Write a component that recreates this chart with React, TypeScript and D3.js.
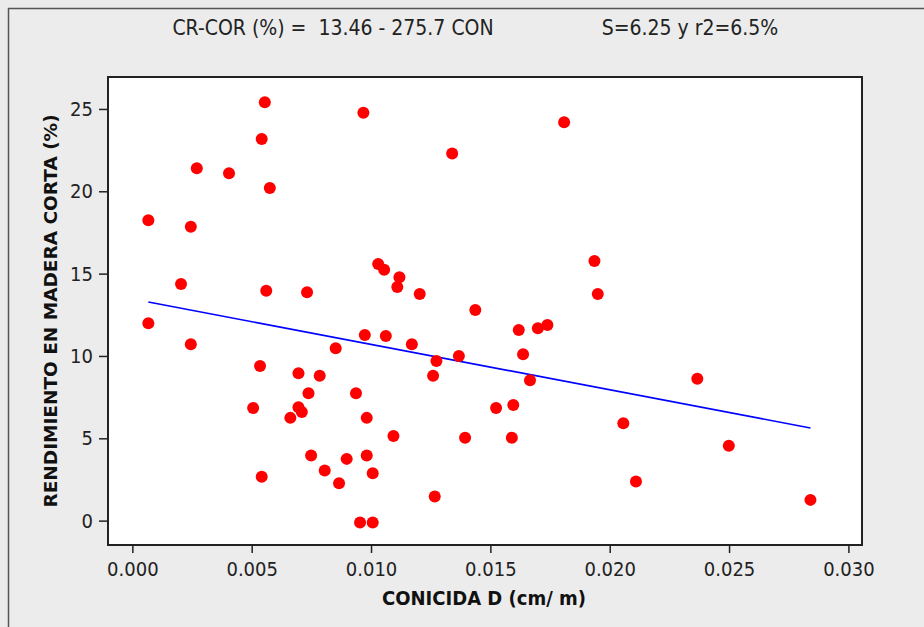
import React, { useEffect, useRef } from "react";
import * as d3 from "d3";

// conicidad (cm/m) vs rendimiento en madera corta (%)
const conicidad = [
  0.00067, 0.00067, 0.00204, 0.00245, 0.00245, 0.0027, 0.00405, 0.00506, 0.00535, 0.00542,
  0.00542, 0.00555, 0.00561, 0.00576, 0.00662, 0.00696, 0.00696, 0.0071, 0.00732, 0.00738,
  0.00749, 0.00785, 0.00806, 0.00852, 0.00866, 0.00898, 0.00937, 0.00954, 0.00968, 0.00974,
  0.00982, 0.00982, 0.01007, 0.01007, 0.0103, 0.01055, 0.01062, 0.01094, 0.0111, 0.01119,
  0.01171, 0.01204, 0.0126, 0.01267, 0.01274, 0.0134, 0.01368, 0.01394, 0.01437, 0.01524,
  0.0159, 0.01596, 0.01619, 0.01637, 0.01666, 0.01699, 0.01739, 0.01809, 0.01936, 0.0195,
  0.02057, 0.0211, 0.02367, 0.02499, 0.02841,
];
const rendimiento = [
  18.24, 11.99, 14.37, 17.85, 10.71, 21.4, 21.1, 6.84, 9.39, 23.18,
  2.67, 25.4, 13.96, 20.2, 6.24, 8.95, 6.88, 6.6, 13.87, 7.73,
  3.95, 8.8, 3.04, 10.47, 2.27, 3.75, 7.73, -0.12, 24.77, 11.27,
  6.24, 3.95, 2.88, -0.12, 15.59, 15.24, 11.21, 5.14, 14.19, 14.78,
  10.71, 13.76, 8.8, 1.46, 9.7, 22.3, 10.0, 5.04, 12.79, 6.84,
  5.04, 7.02, 11.58, 10.1, 8.52, 11.68, 11.88, 24.19, 15.77, 13.76,
  5.91, 2.37, 8.62, 4.55, 1.26,
];
const intercept = 13.46;
const slope = -275.7;
const xTicks = [0, 0.005, 0.01, 0.015, 0.02, 0.025, 0.03];
const yTicks = [0, 5, 10, 15, 20, 25];
const titleLeft = "CR-COR (%) =  13.46 - 275.7 CON";
const titleRight = "S=6.25 y r2=6.5%";
const xLabel = "CONICIDA D (cm/ m)";
const yLabel = "RENDIMIENTO EN MADERA CORTA (%)";

const W = 924;
const H = 627;
const font = "'DejaVu Sans Condensed', 'DejaVu Sans', sans-serif";
const boldFont = "'DejaVu Sans', sans-serif";

const App = () => {
  const svgRef = useRef(null);

  useEffect(() => {
    const svg = d3.select(svgRef.current);
    svg.selectAll("*").remove();

    const plot = { left: 108, top: 77, right: 862, bottom: 545 };

    const x = d3.scaleLinear().domain([-0.00102, 0.03057]).range([plot.left, plot.right]);
    const y = d3.scaleLinear().domain([-1.48, 26.94]).range([plot.bottom, plot.top]);

    // background and outer frame
    svg.append("rect").attr("width", W).attr("height", H).attr("fill", "#ebebeb");
    svg
      .append("rect")
      .attr("x", 8.5)
      .attr("y", 8.5)
      .attr("width", W + 20)
      .attr("height", H + 20)
      .attr("fill", "#ececec")
      .attr("stroke", "#555")
      .attr("stroke-width", 1.5);

    svg
      .append("rect")
      .attr("x", plot.left)
      .attr("y", plot.top)
      .attr("width", plot.right - plot.left)
      .attr("height", plot.bottom - plot.top)
      .attr("fill", "#fff")
      .attr("stroke", "#222")
      .attr("stroke-width", 2);

    const xAxis = svg
      .append("g")
      .attr("transform", `translate(0,${plot.bottom + 1})`)
      .call(
        d3.axisBottom(x).tickValues(xTicks).tickFormat(d3.format(".3f")).tickSize(7).tickSizeOuter(0)
      );
    const yAxis = svg
      .append("g")
      .attr("transform", `translate(${plot.left - 1},0)`)
      .call(d3.axisLeft(y).tickValues(yTicks).tickSize(8).tickSizeOuter(0));

    [xAxis, yAxis].forEach((g) => {
      g.select(".domain").remove();
      g.selectAll("line").attr("stroke", "#222").attr("stroke-width", 1.5);
      g.selectAll("text")
        .attr("fill", "#222")
        .style("font-family", font)
        .style("font-size", "20px");
    });
    xAxis.selectAll("text").attr("dy", "0.95em").attr("y", 11);
    yAxis.selectAll("text").attr("x", -14);

    // regression line
    const xs = d3.extent(conicidad);
    svg
      .append("path")
      .attr(
        "d",
        d3.line()([
          [x(xs[0]), y(intercept + slope * xs[0])],
          [x(xs[1]), y(intercept + slope * xs[1])],
        ])
      )
      .attr("stroke", "#0000ff")
      .attr("stroke-width", 1.6)
      .attr("fill", "none");

    svg
      .append("g")
      .selectAll("circle")
      .data(conicidad)
      .enter()
      .append("circle")
      .attr("cx", (d) => x(d))
      .attr("cy", (d, i) => y(rendimiento[i]))
      .attr("r", 6)
      .attr("fill", "#ff0000");

    svg
      .append("text")
      .attr("x", 333)
      .attr("y", 35)
      .attr("text-anchor", "middle")
      .style("font-family", font)
      .style("font-size", "21px")
      .attr("fill", "#222")
      .style("white-space", "pre")
      .text(titleLeft);
    svg
      .append("text")
      .attr("x", 690)
      .attr("y", 35)
      .attr("text-anchor", "middle")
      .style("font-family", font)
      .style("font-size", "21px")
      .attr("fill", "#222")
      .text(titleRight);

    svg
      .append("text")
      .attr("x", 484)
      .attr("y", 605)
      .attr("text-anchor", "middle")
      .style("font-family", font)
      .style("font-size", "20px")
      .style("font-weight", "bold")
      .attr("fill", "#111")
      .text(xLabel);
    svg
      .append("text")
      .attr("transform", `translate(57,311) rotate(-90)`)
      .attr("text-anchor", "middle")
      .style("font-family", boldFont)
      .style("font-size", "18.5px")
      .style("font-weight", "bold")
      .attr("fill", "#111")
      .text(yLabel);
  }, []);

  return (
    <svg
      ref={svgRef}
      width={W}
      height={H}
      style={{ position: "absolute", left: 0, top: 0, display: "block" }}
    ></svg>
  );
};

export default App;
